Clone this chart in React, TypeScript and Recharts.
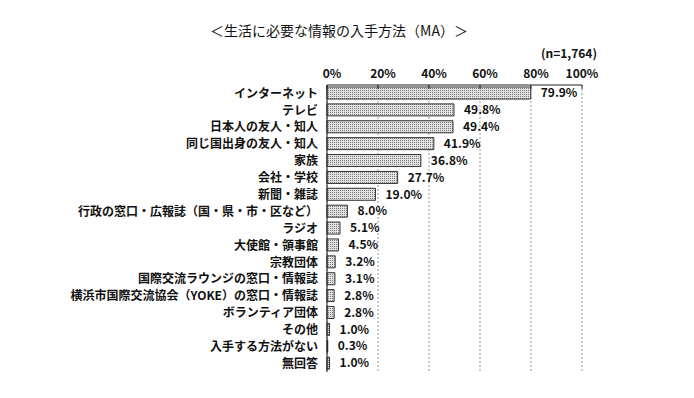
import React from 'react';
import { BarChart, Bar, XAxis, YAxis, CartesianGrid, LabelList } from 'recharts';

const categories = [
  'インターネット',
  'テレビ',
  '日本人の友人・知人',
  '同じ国出身の友人・知人',
  '家族',
  '会社・学校',
  '新聞・雑誌',
  '行政の窓口・広報誌（国・県・市・区など）',
  'ラジオ',
  '大使館・領事館',
  '宗教団体',
  '国際交流ラウンジの窓口・情報誌',
  '横浜市国際交流協会（YOKE）の窓口・情報誌',
  'ボランティア団体',
  'その他',
  '入手する方法がない',
  '無回答',
];
const values = [79.9, 49.8, 49.4, 41.9, 36.8, 27.7, 19.0, 8.0, 5.1, 4.5, 3.2, 3.1, 2.8, 2.8, 1.0, 0.3, 1.0];
const xTicks = [0, 20, 40, 60, 80, 100];
const title = '＜生活に必要な情報の入手方法（MA）＞';
const sampleNote = '(n=1,764)';

const data = categories.map((name, i) => ({ name, value: values[i] }));

const FONT = '"Noto Sans CJK JP", "Noto Sans", sans-serif';

const TopTick = (props: any) => {
  const { x, y, payload } = props;
  const dx = payload.value === 100 ? 0 : 5;
  return (
    <g>
      <line x1={x} x2={x} y1={85} y2={89} stroke="#222" strokeWidth={1} />
      <text x={x + dx} y={y + 1} textAnchor="middle" fontFamily={FONT} fontSize={12} fontWeight="bold" fill="#111" dominantBaseline="central">
        {payload.value}%
      </text>
    </g>
  );
};

export default function App() {
  return (
    <div style={{ position: 'absolute', left: 0, top: 0, width: 694, height: 398, background: '#fff' }}>
      <div style={{ position: 'absolute', left: 0, width: 694, top: 20, textAlign: 'center', fontFamily: FONT, fontSize: 14, color: '#111', lineHeight: '20px' }}>
        <span style={{ position: 'relative', left: -8 }}>{title}</span>
      </div>
      <div style={{ position: 'absolute', right: 97, top: 46, fontFamily: FONT, fontSize: 12, fontWeight: 'bold', color: '#111', lineHeight: '14px' }}>
        {sampleNote}
      </div>
      <BarChart
        width={694}
        height={398}
        data={data}
        layout="vertical"
        margin={{ top: 65, right: 112, bottom: 26, left: 0 }}
        barSize={12}
      >
        <defs>
          <pattern id="dots" width="2" height="2" patternUnits="userSpaceOnUse">
            <rect width="2" height="2" fill="#e2e2e2" />
            <rect width="1" height="1" fill="#7a7a7a" />
          </pattern>
        </defs>
        <CartesianGrid horizontal={false} vertical={true} stroke="#999" strokeDasharray="2 2" />
        <XAxis
          type="number"
          orientation="top"
          domain={[0, 100]}
          ticks={xTicks}
          height={20}
          axisLine={{ stroke: '#222' }}
          tickLine={false}
          tick={<TopTick />}
          tickMargin={8}
          interval={0}
        />
        <YAxis
          type="category"
          dataKey="name"
          width={327}
          axisLine={{ stroke: '#111' }}
          tickLine={false}
          tickSize={6}
          tickMargin={3}
          interval={0}
          tick={{ fontFamily: FONT, fontSize: 12, fontWeight: 'bold', fill: '#111' }}
        />
        <Bar dataKey="value" fill="url(#dots)" stroke="#333" strokeWidth={1} isAnimationActive={false}>
          <LabelList
            dataKey="value"
            position="right"
            offset={10}
            formatter={(v: any) => `${Number(v).toFixed(1)}%`}
            style={{ fontFamily: FONT, fontSize: 12, fontWeight: 'bold', fill: '#111' }}
          />
        </Bar>
      </BarChart>
    </div>
  );
}
